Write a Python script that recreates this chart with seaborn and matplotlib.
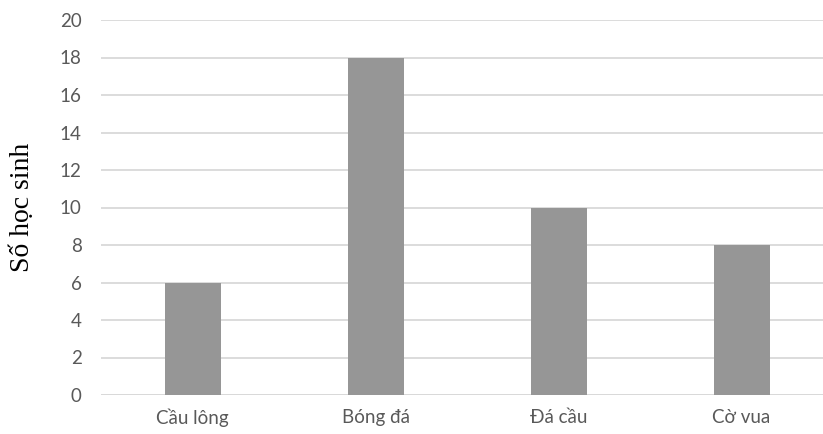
import matplotlib
matplotlib.use('Agg')
import matplotlib.pyplot as plt
import seaborn as sns
import pandas as pd

# Dữ liệu
mon_the_thao = ['Cầu lông', 'Bóng đá', 'Đá cầu', 'Cờ vua']
so_hoc_sinh = [6, 18, 10, 8]
y_ticks = [0, 2, 4, 6, 8, 10, 12, 14, 16, 18, 20]

df = pd.DataFrame({'Môn': mon_the_thao, 'Số học sinh': so_hoc_sinh})

sns.set_style('white')
plt.rcParams['font.family'] = ['Lato', 'DejaVu Sans']

fig = plt.figure(figsize=(8.23, 4.34), dpi=100)
ax = fig.add_axes([101 / 823, 39 / 434, 722 / 823, 375 / 434])

sns.barplot(x='Môn', y='Số học sinh', data=df, color='#969696', width=0.306,
            saturation=1, linewidth=0, ax=ax, zorder=3)

ax.set_ylim(0, 20)
ax.set_xlim(-0.5, 3.445)
ax.set_yticks(y_ticks)
ax.yaxis.grid(True, color='#d9d9d9', linewidth=1.3, zorder=0)
ax.set_axisbelow(True)
for s in ax.spines.values():
    s.set_visible(False)
ax.axhline(0, color='#d9d9d9', linewidth=1.3, zorder=1)

ax.tick_params(axis='both', length=0, labelsize=13.5, colors='#595959', pad=14)
ax.tick_params(axis='x', pad=10)
ax.set_xlabel('')
ax.set_ylabel('Số học sinh', fontsize=20, family='Liberation Serif', color='black', labelpad=18)

fig.savefig('out.png', dpi=100)
